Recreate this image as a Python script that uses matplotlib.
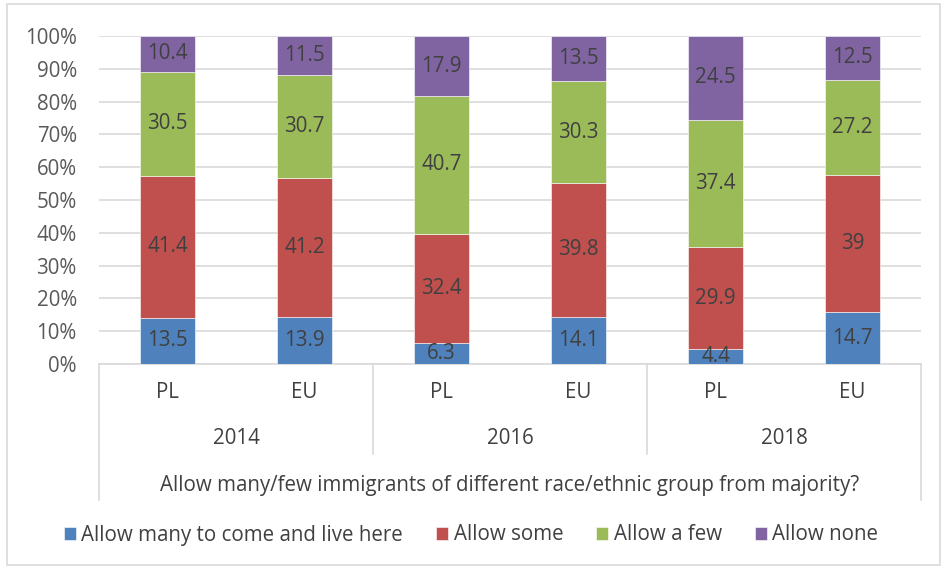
import matplotlib
matplotlib.use("Agg")
import matplotlib.pyplot as plt
from matplotlib.patches import Rectangle

plt.rcParams["font.family"] = ["Open Sans", "DejaVu Sans"]

groups = ["PL", "EU", "PL", "EU", "PL", "EU"]
years = ["2014", "2016", "2018"]
series = ["Allow many to come and live here", "Allow some", "Allow a few", "Allow none"]
many = [13.5, 13.9, 6.3, 14.1, 4.4, 14.7]
some = [41.4, 41.2, 32.4, 39.8, 29.9, 39]
few = [30.5, 30.7, 40.7, 30.3, 37.4, 27.2]
none_ = [10.4, 11.5, 17.9, 13.5, 24.5, 12.5]
colors = ["#4F81BD", "#C0504D", "#9BBB59", "#8064A2"]
axis_title = "Allow many/few immigrants of different race/ethnic group from majority?"

W, H = 942, 569
FS = 14.8
fig = plt.figure(figsize=(W / 100, H / 100), dpi=100)
fig.patches.append(Rectangle((7 / W, 4 / H), 933 / W, 561 / H, transform=fig.transFigure,
                             facecolor="none", edgecolor="#D9D9D9", lw=1.2))
ax = fig.add_axes([99 / W, (H - 364) / H, 822 / W, 328 / H])

text_col = "#404040"
grid_col = "#D9D9D9"
data = [many, some, few, none_]
totals = [sum(v) for v in zip(*data)]
xs = [i + 0.5 for i in range(len(groups))]
bottom = [0.0] * len(groups)
for vals, col, name in zip(data, colors, series):
    frac = [v / t for v, t in zip(vals, totals)]
    ax.bar(xs, frac, 0.4, bottom=bottom, color=col, label=name, zorder=3,
           edgecolor="white", linewidth=0.4)
    for x, b, f, v in zip(xs, bottom, frac, vals):
        ax.text(x, b + f / 2, f"{v:g}", ha="center", va="center",
                fontsize=FS, color=text_col, zorder=4)
    bottom = [b + f for b, f in zip(bottom, frac)]

ax.set_xlim(0, 6)
ax.set_ylim(0, 1)
ax.set_yticks([i / 10 for i in range(11)])
ax.set_yticklabels([f"{i * 10}%" for i in range(11)], fontsize=FS, color="#595959")
ax.tick_params(axis="y", length=0, pad=16)
ax.set_xticks([])
ax.grid(axis="y", color=grid_col, lw=1.2, zorder=0)
for s in ["top", "right", "left"]:
    ax.spines[s].set_visible(False)
ax.spines["bottom"].set_color(grid_col)
ax.spines["bottom"].set_linewidth(1.2)

# category table below the axis
px = 1 / 328
tr = ax.get_xaxis_transform()
for x in [0, 6]:
    ax.plot([x, x], [0, -136 * px], color=grid_col, lw=1.2, clip_on=False, transform=tr)
for x in [2, 4]:
    ax.plot([x, x], [0, -90 * px], color=grid_col, lw=1.2, clip_on=False, transform=tr)
for x, g in zip(xs, groups):
    ax.text(x, -29 * px, g, ha="center", va="center", fontsize=FS, color=text_col, transform=tr)
for i, y in enumerate(years):
    ax.text(2 * i + 1, -74 * px, y, ha="center", va="center", fontsize=FS, color=text_col,
            transform=tr)
ax.text(3, -122 * px, axis_title, ha="center", va="center", fontsize=FS, color=text_col,
        transform=tr)

leg = fig.legend(loc="center", bbox_to_anchor=(0.5, 1 - 535 / H), ncol=4, frameon=False,
                 fontsize=FS, handlelength=0.6, handleheight=0.6, handletextpad=0.25,
                 columnspacing=1.6)
for t in leg.get_texts():
    t.set_color(text_col)

fig.savefig("out.png", dpi=100)
